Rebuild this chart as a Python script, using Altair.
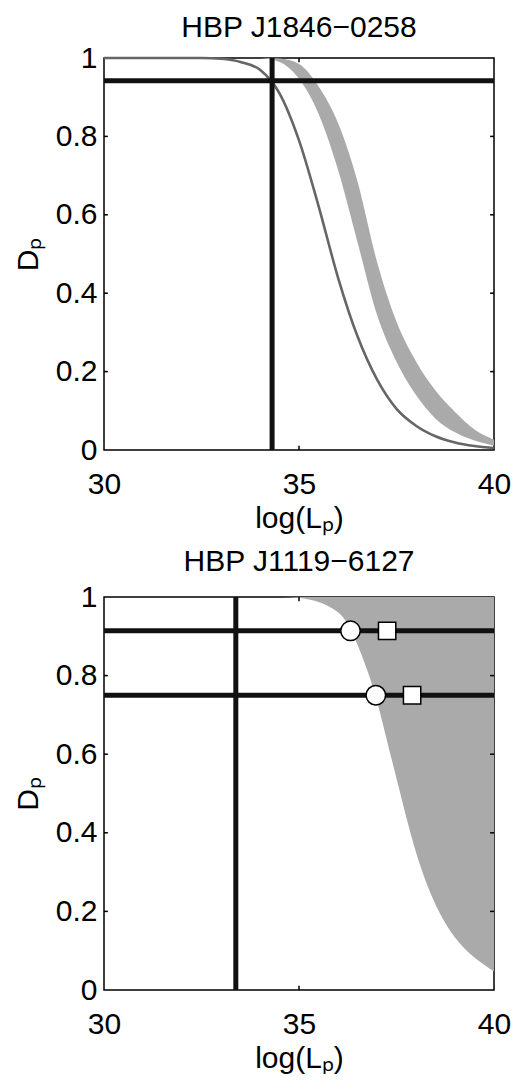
import altair as alt
import pandas as pd

FONT = "Liberation Sans"
FS = 30

# ---------------- data ----------------
# Top panel: HBP J1846-0258
top_title = "HBP J1846\u22120258"
top_curve_x = [30.0, 32.5, 33.0, 33.5, 34.0, 34.5, 35.0, 35.5, 36.0, 36.5, 37.0, 37.5, 38.0, 38.5, 39.0, 39.5, 40.0]
top_curve_d = [1.0, 1.0, 0.998, 0.99, 0.97, 0.91, 0.79, 0.623, 0.44, 0.29, 0.18, 0.105, 0.062, 0.035, 0.019, 0.01, 0.005]

band_x = [34.0, 34.5, 35.0, 35.5, 36.0, 36.5, 37.0, 37.5, 38.0, 38.5, 39.0, 39.5, 40.0]
band_lo = [1.0, 0.99, 0.947, 0.858, 0.715, 0.53, 0.345, 0.225, 0.14, 0.08, 0.045, 0.024, 0.011]
band_hi = [1.0, 0.999, 0.985, 0.928, 0.834, 0.685, 0.48, 0.327, 0.226, 0.152, 0.097, 0.052, 0.026]

top_hlines = [0.942]
top_vlines = [34.31]

# Bottom panel: HBP J1119-6127
bot_title = "HBP J1119\u22126127"
bot_x = [34.0, 34.5, 35.0, 35.5, 36.0, 36.25, 36.5, 36.75, 37.0, 37.25, 37.5, 38.0, 38.5, 39.0, 39.5, 40.0]
bot_d = [1.0, 1.0, 0.999, 0.99, 0.965, 0.935, 0.88, 0.815, 0.74, 0.635, 0.54, 0.338, 0.21, 0.128, 0.08, 0.047]

bot_hlines = [0.914, 0.75]
bot_vlines = [33.38]
circle_x = [36.32, 36.97]
circle_d = [0.914, 0.75]
square_x = [37.26, 37.90]
square_d = [0.914, 0.75]

x_ticks = [30, 35, 40]
y_ticks = [0, 0.2, 0.4, 0.6, 0.8, 1.0]

X_TITLE = "log(L\u209a)"
Y_TITLE = "D\u209a"

# ---------------- helpers ----------------
xs = alt.Scale(domain=[30, 40], nice=False, zero=False)
ys = alt.Scale(domain=[0, 1], nice=False, zero=False)
xaxis = alt.Axis(values=x_ticks, title=X_TITLE, labelPadding=19, titlePadding=4)
yaxis = alt.Axis(values=y_ticks, format="~g", title=Y_TITLE, labelPadding=7, titlePadding=12)


def X(field):
    return alt.X(field, type="quantitative", scale=xs, axis=xaxis)


def Y(field):
    return alt.Y(field, type="quantitative", scale=ys, axis=yaxis)


def inner_ticks():
    rows = []
    tx = 0.1
    ty = 0.011
    for v in x_ticks[1:-1]:
        rows.append(dict(x=v, x2=v, y=0.0, y2=ty))
        rows.append(dict(x=v, x2=v, y=1.0, y2=1.0 - ty))
    for v in y_ticks[1:-1]:
        rows.append(dict(x=30.0, x2=30.0 + tx, y=v, y2=v))
        rows.append(dict(x=40.0, x2=40.0 - tx, y=v, y2=v))
    df = pd.DataFrame(rows)
    return alt.Chart(df).mark_rule(color="black", strokeWidth=1.5).encode(
        x=X("x"), x2="x2", y=Y("y"), y2="y2"
    )


def rules(h, v):
    hdf = pd.DataFrame({"d": h})
    vdf = pd.DataFrame({"x": v})
    hr = alt.Chart(hdf).mark_rule(color="#111111", strokeWidth=5).encode(y=Y("d"))
    vr = alt.Chart(vdf).mark_rule(color="#111111", strokeWidth=5).encode(x=X("x"))
    return hr, vr


def title(t, offset):
    return alt.TitleParams(t, font=FONT, fontSize=FS, fontWeight="normal", color="black", offset=offset)


# ---------------- top panel ----------------
band_df = pd.DataFrame({"x": band_x, "lo": band_lo, "hi": band_hi})
curve_df = pd.DataFrame({"x": top_curve_x, "d": top_curve_d})

band = alt.Chart(band_df).mark_area(color="#aaaaaa", interpolate="monotone", opacity=1).encode(
    x=X("x"), y=Y("lo"), y2="hi"
)
curve = alt.Chart(curve_df).mark_line(color="#666666", strokeWidth=2.6, interpolate="monotone").encode(
    x=X("x"), y=Y("d")
)
thr, tvr = rules(top_hlines, top_vlines)
top = alt.layer(band, curve, thr, tvr, inner_ticks()).properties(
    width=390, height=392, title=title(top_title, 0)
)

# ---------------- bottom panel ----------------
bot_df = pd.DataFrame({"x": bot_x, "d": bot_d})
area = alt.Chart(bot_df).mark_area(color="#aaaaaa", interpolate="basis", opacity=1).encode(
    x=X("x"), y=Y("d"), y2=alt.Y2(datum=1)
)
bhr, bvr = rules(bot_hlines, bot_vlines)
circ = alt.Chart(pd.DataFrame({"x": circle_x, "d": circle_d})).mark_point(
    shape="circle", size=380, filled=True, fill="white", stroke="black", strokeWidth=1.5, opacity=1
).encode(x=X("x"), y=Y("d"))
sq = alt.Chart(pd.DataFrame({"x": square_x, "d": square_d})).mark_point(
    shape="square", size=300, filled=True, fill="white", stroke="black", strokeWidth=1.5, opacity=1
).encode(x=X("x"), y=Y("d"))
bottom = alt.layer(area, bhr, bvr, inner_ticks(), circ, sq).properties(
    width=390, height=393, title=title(bot_title, 5)
)

chart = alt.vconcat(top, bottom, spacing=12).configure(
    padding={"left": 4, "top": 4, "right": 0, "bottom": 0}, background="white"
).configure_view(
    stroke="black", strokeWidth=1.5
).configure_axis(
    labelFont=FONT, titleFont=FONT, labelFontSize=FS, titleFontSize=FS,
    labelColor="black", titleColor="black", titleFontWeight="normal",
    ticks=False, domain=False, grid=False, labelFlush=False,
)

chart.save("out.html", embed_options={"renderer": "svg", "actions": False})
